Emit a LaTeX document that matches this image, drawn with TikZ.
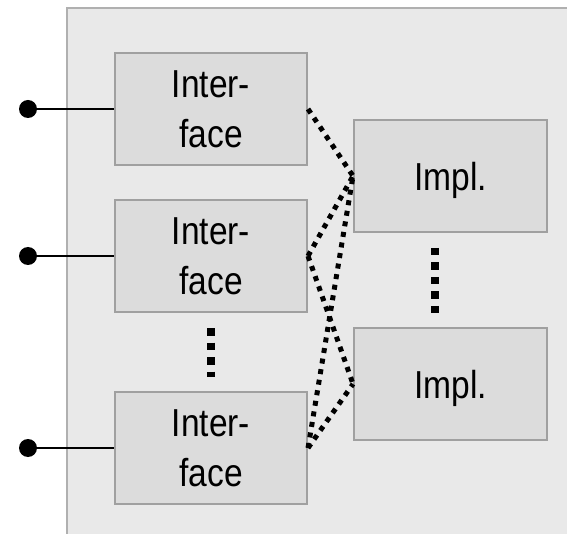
\documentclass[tikz,border=0pt]{standalone}
\usepackage{fontspec}
\setmainfont{Liberation Sans}[FakeStretch=0.86]
\begin{document}
\begin{tikzpicture}[x=1pt,y=-1pt,
  comp/.style={draw=boxline,fill=boxfill,line width=2pt,inner sep=0pt,
    minimum width=192pt,minimum height=112pt,align=center,
    font=\fontsize{39}{50}\selectfont},
  port/.style={circle,fill=black,inner sep=0pt,minimum size=18pt},
  wire/.style={line width=1.5pt},
  link/.style={line width=5pt,dash pattern=on 5pt off 5.7pt},
  vdots/.style={line width=8pt,dash pattern=on 7.5pt off 7pt}]
\definecolor{panel}{HTML}{E9E9E9}
\definecolor{panelline}{HTML}{B0B0B0}
\definecolor{boxfill}{HTML}{DCDCDC}
\definecolor{boxline}{HTML}{A0A0A0}
\useasboundingbox (0,0) rectangle (567,534);
% component container (open to the right and bottom)
\fill[panel] (67,8) rectangle (567,534);
\draw[panelline,line width=2pt] (67,534) -- (67,8) -- (567,8);
% interfaces
\node[comp] (if1) at (211,109) {Inter-\\face};
\node[comp] (if2) at (211,256) {Inter-\\face};
\node[comp] (if3) at (211,448) {Inter-\\face};
% implementations
\node[comp,minimum width=193pt,text depth=0pt] (im1) at (450.5,176) {Impl.};
\node[comp,minimum width=193pt,text depth=0pt] (im2) at (450.5,384) {Impl.};
% external ports
\node[port] (p1) at (28,109) {};
\node[port] (p2) at (28,256) {};
\node[port] (p3) at (28,448) {};
\draw[wire] (p1) -- (if1);
\draw[wire] (p2) -- (if2);
\draw[wire] (p3) -- (if3);
% interface-to-implementation links
\draw[link] (if1.east) -- (im1.west);
\draw[link] (if2.east) -- (im1.west);
\draw[link] (if2.east) -- (im2.west);
\draw[link] (if3.east) -- (im1.west);
\draw[link] (if3.east) -- (im2.west);
% ellipses
\coordinate (e1a) at (211,328);
\coordinate (e1b) at (211,377);
\coordinate (e2a) at (435,248);
\coordinate (e2b) at (435,314);
\draw[vdots] (e1a) -- (e1b);
\draw[vdots] (e2a) -- (e2b);
\end{tikzpicture}
\end{document}
